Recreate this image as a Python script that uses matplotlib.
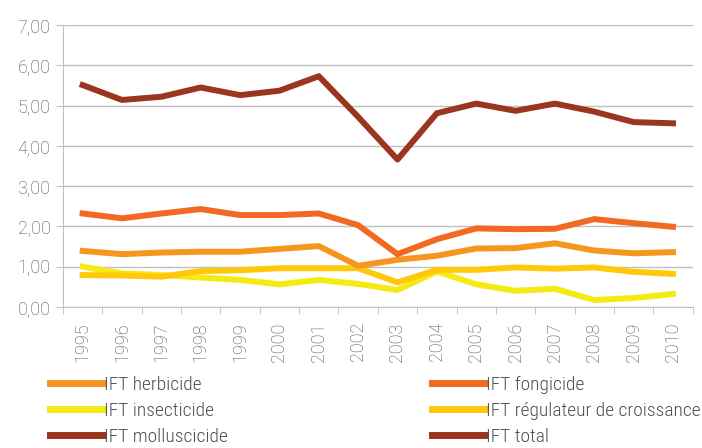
import matplotlib.pyplot as plt
import numpy as np

plt.rcParams['font.family'] = ['Roboto Condensed', 'Liberation Sans Narrow', 'Roboto', 'DejaVu Sans']
plt.rcParams['font.weight'] = 'light'

FONT_SIZE = 14
TICK_SIZE = 13
LINE_WIDTH = 4.3
TEXT_COLOR = "#505050"
GRID_COLOR = "#c0c0c0"

years = [str(y) for y in range(1995, 2011)]

ift_herbicide = [1.39, 1.31, 1.35, 1.37, 1.37, 1.44, 1.51, 1.02, 1.17, 1.27, 1.45, 1.46, 1.58, 1.40, 1.33, 1.36]
ift_fongicide = [2.32, 2.20, 2.32, 2.43, 2.28, 2.28, 2.32, 2.03, 1.31, 1.68, 1.95, 1.93, 1.94, 2.18, 2.08, 1.99]
ift_insecticide = [1.00, 0.83, 0.79, 0.73, 0.67, 0.56, 0.67, 0.57, 0.42, 0.88, 0.56, 0.40, 0.45, 0.17, 0.22, 0.32]
ift_regulateur = [0.79, 0.78, 0.75, 0.89, 0.91, 0.96, 0.96, 0.96, 0.61, 0.92, 0.92, 0.98, 0.95, 0.98, 0.87, 0.82]
ift_molluscicide = [np.nan] * 16
ift_total = [5.51, 5.14, 5.22, 5.45, 5.26, 5.37, 5.73, 4.72, 3.66, 4.81, 5.05, 4.87, 5.05, 4.85, 4.59, 4.56]

colors = {
    "herb": "#F7961E",
    "fong": "#F26A21",
    "insect": "#F5EA14",
    "regul": "#FFC80A",
    "mollus": "#9A3520",
    "total": "#9A3520",
}

fig = plt.figure(figsize=(7.02, 4.48), dpi=100)
ax = fig.add_axes([0.0897, 0.315, 0.897, 0.629])
x = np.arange(len(years))

l_ins, = ax.plot(x, ift_insecticide, color=colors["insect"], linewidth=LINE_WIDTH, label="IFT insecticide", zorder=3)
l_reg, = ax.plot(x, ift_regulateur, color=colors["regul"], linewidth=LINE_WIDTH, label="IFT régulateur de croissance", zorder=4)
l_herb, = ax.plot(x, ift_herbicide, color=colors["herb"], linewidth=LINE_WIDTH, label="IFT herbicide", zorder=5)
l_fong, = ax.plot(x, ift_fongicide, color=colors["fong"], linewidth=LINE_WIDTH, label="IFT fongicide", zorder=6)
l_mol, = ax.plot(x, ift_molluscicide, color=colors["mollus"], linewidth=LINE_WIDTH, label="IFT molluscicide", zorder=7)
l_tot, = ax.plot(x, ift_total, color=colors["total"], linewidth=LINE_WIDTH, label="IFT total", zorder=8)

tick_font = ['Roboto', 'DejaVu Sans']
ax.set_xlim(-0.5, len(years) - 0.5)
ax.set_ylim(0, 7)
ax.set_yticks(np.arange(0, 8, 1))
ax.set_yticklabels(["{:.2f}".format(v).replace(".", ",") for v in range(8)],
                   fontsize=TICK_SIZE, color=TEXT_COLOR, family=tick_font)
ax.set_xticks(x)
ax.set_xticklabels(years, rotation=90, fontsize=TICK_SIZE, color=TEXT_COLOR, family=tick_font)
ax.set_xticks(np.arange(-0.5, len(years), 1), minor=True)
ax.tick_params(axis='x', which='major', length=0, pad=11)
ax.tick_params(axis='x', which='minor', length=5, color=GRID_COLOR, direction='out')
ax.tick_params(axis='y', length=5, color=GRID_COLOR, pad=4)
ax.grid(axis='y', color=GRID_COLOR, linewidth=1)
ax.set_axisbelow(True)
for s in ["top", "right"]:
    ax.spines[s].set_visible(False)
for s in ["left", "bottom"]:
    ax.spines[s].set_color(GRID_COLOR)

leg_kw = dict(fontsize=FONT_SIZE, frameon=False, handlelength=2.75, handletextpad=0.05,
              labelspacing=0.4, borderpad=0, borderaxespad=0, loc="upper left")
leg1 = fig.legend(handles=[l_herb, l_ins, l_mol], bbox_to_anchor=(50 / 702, 1 - 376 / 448), **leg_kw)
leg2 = fig.legend(handles=[l_fong, l_reg, l_tot], bbox_to_anchor=(432 / 702, 1 - 376 / 448), **leg_kw)
for leg in (leg1, leg2):
    for t in leg.get_texts():
        t.set_color(TEXT_COLOR)
    for h in leg.get_lines():
        h.set_linewidth(5)

plt.savefig("out.png", dpi=100)
